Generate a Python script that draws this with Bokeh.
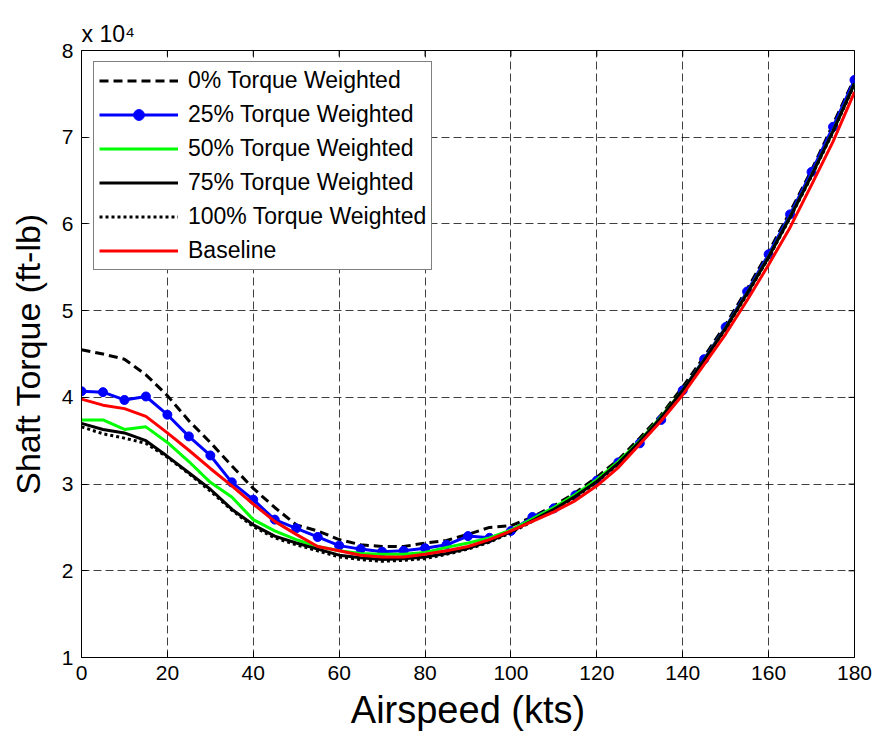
import math
from bokeh.plotting import figure
from bokeh.models import Legend, LegendItem, FixedTicker, Range1d
from bokeh.embed import file_html
from bokeh.resources import INLINE

# Airspeed (kts)
airspeed = list(range(0, 181, 5))

# Shaft torque in units of 10^4 ft-lb
tq_0 = [4.55, 4.50, 4.44, 4.26, 4.02, 3.73, 3.48, 3.21, 2.95, 2.73, 2.53, 2.46, 2.36, 2.30, 2.28, 2.28,
        2.32, 2.35, 2.42, 2.50, 2.52, 2.62, 2.75, 2.90, 3.08, 3.28, 3.53, 3.80, 4.12,
        4.47, 4.84, 5.25, 5.68, 6.14, 6.62, 7.15, 7.68]
tq_25 = [4.07, 4.06, 3.97, 4.01, 3.80, 3.55, 3.33, 3.02, 2.82, 2.59, 2.49, 2.39, 2.29, 2.25, 2.22, 2.23,
         2.26, 2.30, 2.40, 2.38, 2.46, 2.62, 2.72, 2.87, 3.04, 3.25, 3.47, 3.74, 4.08,
         4.44, 4.81, 5.22, 5.65, 6.11, 6.60, 7.12, 7.66]
tq_50 = [3.74, 3.74, 3.63, 3.66, 3.48, 3.26, 3.02, 2.85, 2.59, 2.46, 2.36, 2.28, 2.23, 2.20, 2.19, 2.19,
         2.21, 2.27, 2.32, 2.38, 2.47, 2.60, 2.73, 2.88, 3.05, 3.26, 3.50, 3.78, 4.08,
         4.43, 4.80, 5.20, 5.62, 6.08, 6.56, 7.07, 7.62]
tq_75 = [3.70, 3.63, 3.59, 3.50, 3.32, 3.13, 2.94, 2.71, 2.53, 2.40, 2.32, 2.25, 2.18, 2.15, 2.13, 2.14,
         2.16, 2.20, 2.26, 2.34, 2.45, 2.58, 2.71, 2.86, 3.03, 3.24, 3.49, 3.77, 4.08,
         4.43, 4.80, 5.20, 5.62, 6.08, 6.56, 7.07, 7.62]
tq_100 = [3.66, 3.58, 3.53, 3.47, 3.31, 3.12, 2.92, 2.70, 2.51, 2.38, 2.30, 2.23, 2.16, 2.13, 2.11, 2.12,
          2.14, 2.19, 2.25, 2.33, 2.44, 2.57, 2.70, 2.85, 3.02, 3.23, 3.48, 3.76, 4.07,
          4.42, 4.79, 5.19, 5.61, 6.07, 6.55, 7.06, 7.61]
baseline = [3.98, 3.91, 3.87, 3.78, 3.59, 3.39, 3.18, 2.98, 2.77, 2.57, 2.42, 2.28, 2.23, 2.18, 2.16, 2.16,
            2.19, 2.23, 2.28, 2.36, 2.46, 2.57, 2.68, 2.81, 2.98, 3.19, 3.46, 3.73, 4.03,
            4.38, 4.73, 5.12, 5.53, 5.96, 6.45, 6.95, 7.52]

x_ticks = [0, 20, 40, 60, 80, 100, 120, 140, 160, 180]
y_ticks = [1, 2, 3, 4, 5, 6, 7, 8]
X_MIN, X_MAX = 0, 180
Y_MIN, Y_MAX = 1, 8

FONT = "Liberation Sans"

p = figure(frame_width=773, frame_height=607,
           x_range=Range1d(X_MIN, X_MAX), y_range=Range1d(Y_MIN, Y_MAX),
           output_backend="svg", toolbar_location=None,
           min_border_left=81, min_border_right=19, min_border_top=50, min_border_bottom=76,
           background_fill_color="white", border_fill_color="white")
p.outline_line_color = "black"
p.outline_line_width = 1

p.title.text = "x 10\u2074"
p.title.align = "left"
p.title.text_font = FONT
p.title.text_font_size = "23px"
p.title.text_font_style = "normal"
p.title.text_color = "black"
p.title.standoff = 8

p.xaxis.ticker = FixedTicker(ticks=x_ticks)
p.yaxis.ticker = FixedTicker(ticks=y_ticks)
p.xaxis.axis_label = "Airspeed (kts)"
p.yaxis.axis_label = "Shaft Torque (ft-lb)"

for ax in [p.xaxis[0], p.yaxis[0]]:
    ax.axis_label_text_font = FONT
    ax.axis_label_text_font_style = "normal"
    ax.axis_label_text_color = "black"
    ax.major_label_text_font = FONT
    ax.major_label_text_font_size = "21px"
    ax.major_label_text_color = "black"
    ax.major_tick_in = 6
    ax.major_tick_out = 0
    ax.minor_tick_in = 0
    ax.minor_tick_out = 0
    ax.axis_line_color = "black"
    ax.major_tick_line_color = "black"
p.xaxis.axis_label_text_font_size = "38px"
p.yaxis.axis_label_text_font_size = "34px"
p.xaxis.major_label_standoff = 8
p.xaxis.axis_label_standoff = 6
p.yaxis.major_label_standoff = 8
p.yaxis.axis_label_standoff = 12

for g in [p.xgrid[0], p.ygrid[0]]:
    g.grid_line_color = "black"
    g.grid_line_alpha = 0.75
    g.grid_line_dash = "8 4"
    g.grid_line_width = 1

# inward tick marks on the top and right edges (half of each dash is clipped by the frame)
p.scatter(x_ticks, [Y_MAX] * len(x_ticks), marker="dash", size=12, angle=math.pi / 2,
          line_color="black", line_width=1)
p.scatter([X_MAX] * len(y_ticks), y_ticks, marker="dash", size=12,
          line_color="black", line_width=1)

r0 = p.line(airspeed, tq_0, line_color="black", line_width=3, line_dash="9 5")
r25 = p.line(airspeed, tq_25, line_color="#0000FF", line_width=3)
r25m = p.scatter(airspeed, tq_25, marker="circle", size=9, fill_color="#0000FF", line_color="#0000FF")
r50 = p.line(airspeed, tq_50, line_color="#00FF00", line_width=3)
r75 = p.line(airspeed, tq_75, line_color="black", line_width=3)
r100 = p.line(airspeed, tq_100, line_color="black", line_width=3, line_dash="3 3")
rb = p.line(airspeed, baseline, line_color="#FF0000", line_width=3)

legend = Legend(items=[
    LegendItem(label="0% Torque Weighted", renderers=[r0]),
    LegendItem(label="25% Torque Weighted", renderers=[r25, r25m]),
    LegendItem(label="50% Torque Weighted", renderers=[r50]),
    LegendItem(label="75% Torque Weighted", renderers=[r75]),
    LegendItem(label="100% Torque Weighted", renderers=[r100]),
    LegendItem(label="Baseline", renderers=[rb]),
], location=(12, 387))
legend.label_text_font = FONT
legend.label_text_font_size = "23px"
legend.label_text_color = "black"
legend.border_line_color = "black"
legend.border_line_width = 1
legend.background_fill_color = "white"
legend.background_fill_alpha = 1
legend.glyph_width = 79
legend.glyph_height = 27
legend.label_height = 27
legend.label_standoff = 10
legend.spacing = 7
legend.padding = 5
legend.margin = 0
p.add_layout(legend, "center")

open("out.html", "w").write(file_html(p, INLINE))
